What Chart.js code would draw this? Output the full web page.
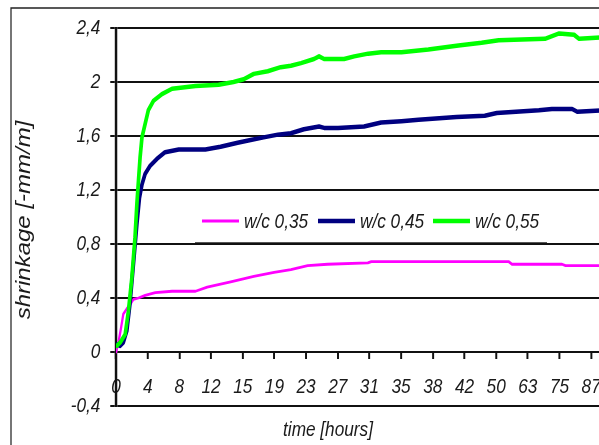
<!DOCTYPE html>
<html>
<head>
<meta charset="utf-8">
<script src="https://cdn.jsdelivr.net/npm/chart.js@4.4.1/dist/chart.umd.min.js"></script>
<style>
  html, body { margin: 0; padding: 0; background: #fff; overflow: hidden; }
  #wrap { width: 599px; height: 445px; overflow: hidden; }
  #chart { display: block; }
</style>
</head>
<body>
<div id="wrap"><canvas id="chart" width="731" height="445"></canvas></div>
<script>
// category labels along the time axis (Excel category axis, one slot per label)
const tickLabels = ['0', '4', '8', '12', '15', '19', '23', '27', '31', '35', '38', '42', '50', '63', '75', '87'];
const seriesNames = ['w/c 0,35', 'w/c 0,45', 'w/c 0,55'];

// x = position along the category axis (in label slots), y = shrinkage [mm/m]
const x035 = [0, 0.07, 0.16, 0.23, 0.34, 0.44, 0.55, 0.71, 0.92, 1.24, 1.77, 2.51, 2.88, 3.62, 4.35, 4.99, 5.52, 6.05, 6.68, 7.95, 8.06, 12.39, 12.5, 14.08, 14.19, 15.32];
const y035 = [0, 0.06, 0.18, 0.28, 0.32, 0.35, 0.39, 0.40, 0.42, 0.44, 0.45, 0.45, 0.48, 0.52, 0.56, 0.59, 0.61, 0.64, 0.65, 0.66, 0.67, 0.67, 0.65, 0.65, 0.64, 0.64];

const x045 = [0.02, 0.13, 0.23, 0.34, 0.44, 0.55, 0.66, 0.74, 0.82, 0.92, 1.08, 1.29, 1.55, 1.98, 2.82, 3.30, 3.84, 4.25, 4.66, 5.11, 5.52, 5.93, 6.41, 6.57, 7.01, 7.83, 8.37, 9.01, 9.55, 10.75, 11.64, 12.02, 13.35, 13.76, 14.40, 14.56, 15.32];
const y045 = [0.057, 0.045, 0.07, 0.155, 0.355, 0.65, 0.95, 1.14, 1.24, 1.32, 1.38, 1.43, 1.48, 1.50, 1.50, 1.52, 1.55, 1.57, 1.59, 1.61, 1.62, 1.65, 1.67, 1.66, 1.66, 1.67, 1.70, 1.71, 1.72, 1.74, 1.75, 1.77, 1.79, 1.80, 1.80, 1.78, 1.79];

const x055 = [0.02, 0.13, 0.29, 0.39, 0.50, 0.60, 0.66, 0.71, 0.76, 0.82, 0.92, 1.02, 1.18, 1.45, 1.77, 2.51, 3.24, 3.71, 4.03, 4.35, 4.79, 5.20, 5.52, 5.84, 6.25, 6.41, 6.57, 7.20, 7.52, 7.96, 8.37, 9.01, 9.86, 10.81, 11.54, 12.08, 13.54, 13.99, 14.46, 14.62, 15.32];
const y055 = [0.045, 0.07, 0.13, 0.30, 0.55, 0.85, 1.10, 1.27, 1.44, 1.59, 1.69, 1.79, 1.86, 1.91, 1.95, 1.97, 1.98, 2.00, 2.02, 2.06, 2.08, 2.11, 2.12, 2.14, 2.17, 2.19, 2.17, 2.17, 2.19, 2.21, 2.22, 2.22, 2.24, 2.27, 2.29, 2.31, 2.32, 2.36, 2.35, 2.32, 2.33];

const colors = ['#ff00ff', '#000080', '#00ff00'];
const widths = [2.8, 4.5, 4.5];

// the original uses a narrow italic face; draw everything squeezed horizontally
const SX = 0.82;
const FONT = "'Liberation Sans', Arial, sans-serif";
const INK = '#1a1a1a';

const toPoints = (xs, ys) => xs.map((x, i) => ({ x, y: ys[i] }));

// horizontal squeeze, outer frame, axis titles and the legend box inside the plot
const decor = {
  id: 'decor',
  beforeDraw(chart) {
    const ctx = chart.ctx;
    ctx.save();
    ctx.scale(SX, 1);
    ctx.fillStyle = '#fff';
    ctx.fillRect(0, 0, chart.width, chart.height);
    ctx.strokeStyle = '#222';
    ctx.lineWidth = 1.5;
    ctx.beginPath();
    ctx.moveTo(11 / SX, chart.height);
    ctx.lineTo(11 / SX, 8);
    ctx.lineTo(chart.width, 8);
    ctx.stroke();
  },
  afterDraw(chart) {
    const ctx = chart.ctx;
    ctx.fillStyle = INK;
    ctx.textBaseline = 'middle';
    ctx.textAlign = 'center';

    ctx.font = 'italic 21px ' + FONT;
    ctx.fillText('time [hours]', 328 / SX, 430);

    ctx.save();
    ctx.translate(25 / SX, 220);
    ctx.rotate(-Math.PI / 2);
    ctx.font = 'italic 24px ' + FONT;
    ctx.fillText('shrinkage [-mm/m]', 0, 0);
    ctx.restore();

    // legend
    ctx.fillStyle = '#fff';
    ctx.fillRect(195 / SX, 199, 352 / SX, 42);
    ctx.strokeStyle = '#444';
    ctx.lineWidth = 1;
    ctx.beginPath();
    ctx.moveTo(195 / SX, 242.5);
    ctx.lineTo(547 / SX, 242.5);
    ctx.stroke();

    const sampleX = [202, 318, 433];
    ctx.font = 'italic 21px ' + FONT;
    ctx.textAlign = 'left';
    chart.data.datasets.forEach((ds, i) => {
      ctx.strokeStyle = ds.borderColor;
      ctx.lineWidth = ds.borderWidth;
      ctx.beginPath();
      ctx.moveTo(sampleX[i] / SX, 221);
      ctx.lineTo((sampleX[i] + 37) / SX, 221);
      ctx.stroke();
      ctx.fillStyle = INK;
      ctx.fillText(ds.label, (sampleX[i] + 42) / SX, 222);
    });
    ctx.restore();
  }
};

new Chart(document.getElementById('chart').getContext('2d'), {
  type: 'line',
  data: {
    datasets: [
      { label: seriesNames[0], data: toPoints(x035, y035), borderColor: colors[0], borderWidth: widths[0], order: 2 },
      { label: seriesNames[1], data: toPoints(x045, y045), borderColor: colors[1], borderWidth: widths[1], order: 1 },
      { label: seriesNames[2], data: toPoints(x055, y055), borderColor: colors[2], borderWidth: widths[2], order: 0 }
    ]
  },
  options: {
    responsive: false,
    animation: false,
    devicePixelRatio: 1,
    layout: { padding: { top: 28, bottom: 39, left: 0, right: 0 } },
    elements: {
      point: { radius: 0 },
      line: { tension: 0, borderJoinStyle: 'round', borderCapStyle: 'round' }
    },
    plugins: { legend: { display: false }, tooltip: { enabled: false } },
    scales: {
      x: {
        type: 'linear',
        position: { y: 0 },
        min: 0,
        max: 15.26,
        afterBuildTicks: (scale) => { scale.ticks = tickLabels.map((_, i) => ({ value: i })); },
        // the plot runs off the right edge, so no room is kept for the last label
        afterFit: (scale) => { scale.paddingLeft = 0; scale.paddingRight = 0; },
        ticks: {
          autoSkip: false,
          maxRotation: 0,
          padding: 16,
          color: INK,
          font: { family: FONT, size: 21, style: 'italic' },
          callback: (v) => tickLabels[v]
        },
        grid: { drawOnChartArea: false, drawTicks: true, tickLength: 7, lineWidth: 2.4, color: '#111' },
        border: { display: false }
      },
      y: {
        min: -0.4,
        max: 2.4,
        afterFit: (scale) => { scale.width = 116 / SX; },
        ticks: {
          stepSize: 0.4,
          padding: 12,
          color: INK,
          font: { family: FONT, size: 21, style: 'italic' },
          callback: (v) => String(+v.toFixed(1)).replace('.', ',')
        },
        grid: { color: '#111', lineWidth: 2, tickLength: 7 },
        border: { display: true, color: '#111', width: 3 }
      }
    }
  },
  plugins: [decor]
});
</script>
</body>
</html>
